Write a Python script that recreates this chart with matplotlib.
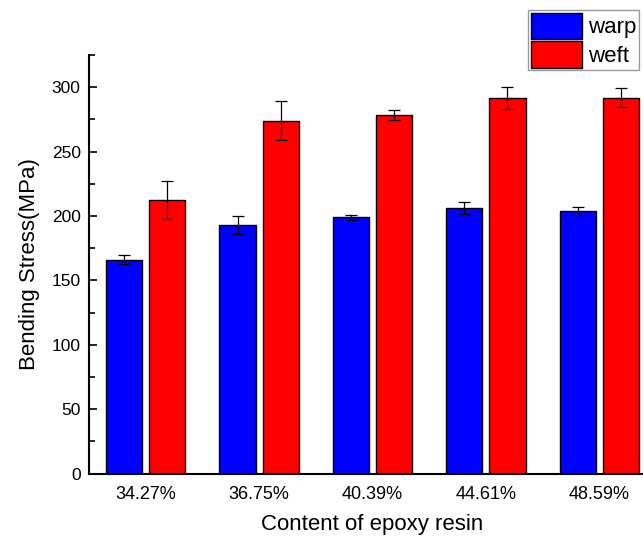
import matplotlib
matplotlib.use("Agg")
import matplotlib.pyplot as plt
import numpy as np
from matplotlib.ticker import MultipleLocator

plt.rcParams['font.family'] = ['Liberation Sans', 'DejaVu Sans']

categories = ["34.27%", "36.75%", "40.39%", "44.61%", "48.59%"]
warp = [166, 193, 199, 206, 204]
warp_err = [3.5, 7.3, 2, 4.7, 3]
weft = [212.5, 274, 278.5, 291.5, 292]
weft_err = [14.5, 15, 4, 8.7, 7]

fig = plt.figure(figsize=(6.43, 5.38), dpi=100)
ax = fig.add_axes([89/643, (538-473.7)/538, 567/643, 418.7/538])

x = np.arange(len(categories))
w = 0.32
off = 0.19
ekw = dict(elinewidth=0.9, capthick=0.9, ecolor='black')
ax.bar(x - off, warp, w, yerr=warp_err, color='#0000ff', edgecolor='black',
       linewidth=1.0, capsize=4.5, error_kw=ekw, label='warp', zorder=2)
ax.bar(x + off, weft, w, yerr=weft_err, color='#ff0000', edgecolor='black',
       linewidth=1.0, capsize=4.5, error_kw=ekw, label='weft', zorder=2)

ax.set_xlim(-0.5, 4.5)
ax.set_ylim(0, 325)
ax.set_xticks(x)
ax.set_xticklabels(categories, fontsize=13)
ax.yaxis.set_major_locator(MultipleLocator(50))
ax.yaxis.set_minor_locator(MultipleLocator(25))
ax.tick_params(axis='y', which='major', direction='in', length=6, width=1.2, labelsize=12.5, pad=6)
ax.tick_params(axis='y', which='minor', direction='in', length=4, width=1.2)
ax.tick_params(axis='x', length=0, pad=9)
for s in ['left', 'bottom']:
    ax.spines[s].set_linewidth(1.5)
ax.spines['top'].set_visible(False)
ax.spines['right'].set_visible(False)

ax.set_xlabel('Content of epoxy resin', fontsize=16, labelpad=8)
ax.set_ylabel('Bending Stress(MPa)', fontsize=16, labelpad=8)

leg = fig.legend(loc='upper left', bbox_to_anchor=(528/643, 1 - 10/538),
                 bbox_transform=fig.transFigure, fontsize=16, frameon=True,
                 fancybox=False, borderpad=0.12, labelspacing=0.1,
                 handlelength=2.3, handleheight=1.45, handletextpad=0.3,
                 borderaxespad=0)
leg.get_frame().set_edgecolor('#808080')
leg.get_frame().set_linewidth(1.0)

fig.savefig('out.png', dpi=100)
